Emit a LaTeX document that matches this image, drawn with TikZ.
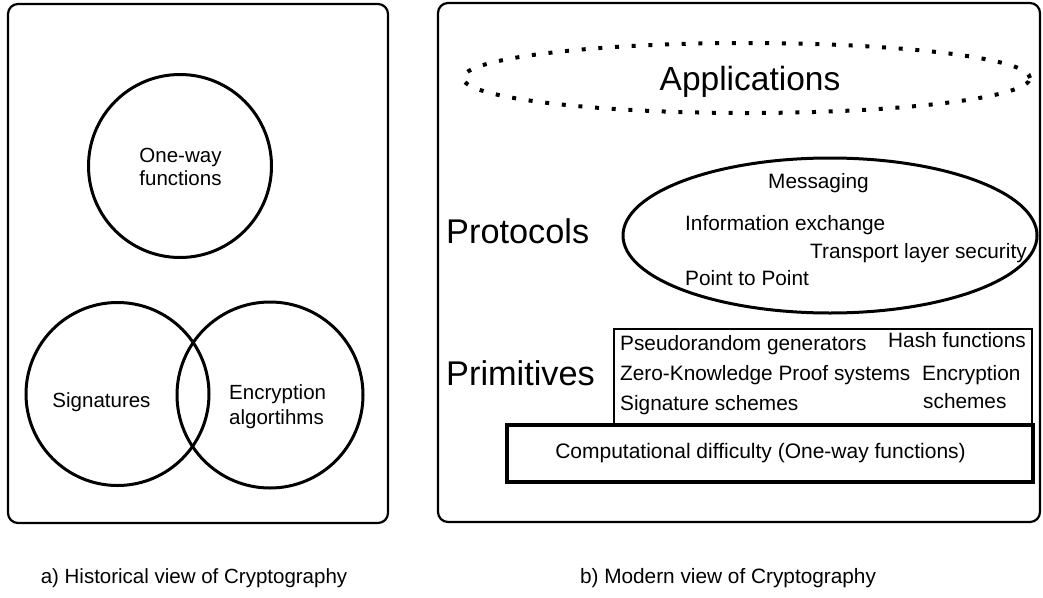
\documentclass[tikz,border=0pt]{standalone}
\usepackage{fontspec}
\setmainfont{Liberation Sans}
\usetikzlibrary{shapes.geometric}
\begin{document}
\begin{tikzpicture}[x=1pt,y=-1pt,
  panelbox/.style={draw, rectangle, rounded corners=10pt, line width=2.2pt, inner sep=0pt},
  ring/.style={draw, circle, line width=3pt, inner sep=0pt},
  sm/.style={inner sep=0pt, font=\fontsize{20.5}{24}\selectfont},
  smr/.style={inner sep=0pt, anchor=base west, font=\fontsize{20.8}{24}\selectfont},
  big/.style={inner sep=0pt, anchor=base west, font=\fontsize{34.3}{40}\selectfont},
]
\useasboundingbox (0,0) rectangle (1043,597);

% left panel
\node[panelbox, minimum width=380pt, minimum height=519pt] (lpanel) at (198,263.5) {};
\node[ring, minimum size=183pt] (owc) at (180,166) {};
\node[ring, minimum size=183pt] (sigc) at (117.5,394) {};
\node[ring, minimum size=186pt] (encc) at (270,395) {};
\node[sm, anchor=base] (ow1) at (180.5,162) {One-way};
\node[sm, anchor=base] (ow2) at (180.5,185) {functions};
\node[sm, anchor=base] (sigt) at (101.5,407) {Signatures};
\node[sm, anchor=base west] (enc1) at (229,399) {Encryption};
\node[sm, anchor=base west] (enc2) at (229,424) {algortihms};
\node[sm, anchor=base] (capa) at (194,583) {a) Historical view of Cryptography};

% right panel
\node[panelbox, minimum width=602pt, minimum height=519pt] (rpanel) at (739,262.5) {};
\node[draw, ellipse, line width=4pt, dash pattern=on 4pt off 12.7pt,
      minimum width=567pt, minimum height=70pt, inner sep=0pt] (appe) at (746.5,78) {};
\node[inner sep=0pt, anchor=base, font=\fontsize{33.5}{40}\selectfont] (appt) at (750,90) {Applications};

\node[big] (prot) at (446,243) {Protocols};
\node[draw, ellipse, line width=3pt, minimum width=414pt, minimum height=155pt, inner sep=0pt] (prote) at (830,235.5) {};
\node[smr] (msg) at (768,188) {Messaging};
\node[smr] (info) at (685,230) {Information exchange};
\node[smr] (tls) at (810,258) {Transport layer security};
\node[smr] (p2p) at (685,285) {Point to Point};

\node[big] (prim) at (446,385) {Primitives};
\node[draw, rectangle, line width=2pt, minimum width=418pt, minimum height=96pt, inner sep=0pt] (primbox) at (823,377) {};
\node[smr] (prg) at (620,350) {Pseudorandom generators};
\node[smr] (hash) at (888,347) {Hash functions};
\node[smr] (zk) at (620,380) {Zero-Knowledge Proof systems};
\node[smr] (encs1) at (922,380) {Encryption};
\node[smr] (sigs) at (620,410) {Signature schemes};
\node[smr] (encs2) at (923,408) {schemes};

\node[draw, rectangle, line width=4pt, minimum width=526pt, minimum height=57pt, inner sep=0pt] (compbox) at (770,453.5) {};
\node[inner sep=0pt, anchor=base, font=\fontsize{21}{24}\selectfont] (compt) at (760.5,458) {Computational difficulty (One-way functions)};

\node[inner sep=0pt, anchor=base, font=\fontsize{20.8}{24}\selectfont] (capb) at (728,583) {b) Modern view of Cryptography};
\end{tikzpicture}
\end{document}
